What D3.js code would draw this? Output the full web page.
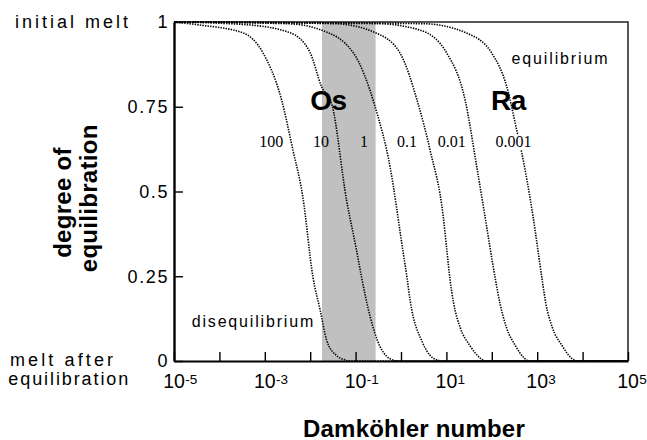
<!DOCTYPE html>
<html>
<head>
<meta charset="utf-8">
<script src="https://cdn.jsdelivr.net/npm/d3@7"></script>
<style>
  body { margin: 0; background: #fff; }
  svg { display: block; font-family: "Liberation Sans", Arial, Helvetica, sans-serif; }
</style>
</head>
<body>
<div id="chart"></div>
<script>
// curves: [log10(Damkohler number), degree of equilibration]
const curveLabels = ["100", "10", "1", "0.1", "0.01", "0.001"];

const curve100 = [[-5, 1], [-4.43, 0.991], [-3.48, 0.968], [-3.04, 0.909], [-2.63, 0.770], [-2.38, 0.622],
  [-2.16, 0.482], [-1.94, 0.248], [-1.78, 0.150], [-1.64, 0.062], [-1.42, 0.016], [-1.23, 0.003], [-1.15, 0], [5, 0]];
const curve10 = [[-5, 1], [-3.4, 0.992], [-2.44, 0.968], [-2.0, 0.909], [-1.75, 0.809], [-1.52, 0.755],
  [-1.20, 0.475], [-0.98, 0.327], [-0.87, 0.248], [-0.68, 0.131], [-0.46, 0.042], [-0.18, 0.003], [-0.05, 0], [5, 0]];
const curve1 = [[-5, 1], [-2.5, 0.995], [-1.75, 0.976], [-1.05, 0.909], [-0.57, 0.750], [-0.24, 0.572],
  [0.04, 0.327], [0.13, 0.248], [0.20, 0.180], [0.48, 0.053], [0.79, 0.003], [0.93, 0], [5, 0]];
const curve01 = [[-5, 1], [-1.45, 0.995], [-0.54, 0.967], [-0.02, 0.908], [0.37, 0.762], [0.64, 0.622],
  [0.93, 0.426], [1.01, 0.327], [1.08, 0.240], [1.16, 0.170], [1.30, 0.100], [1.52, 0.045], [1.75, 0.008], [1.85, 0], [5, 0]];
const curve001 = [[-5, 1], [-0.5, 0.995], [0.42, 0.976], [1.01, 0.908], [1.42, 0.765], [1.67, 0.572],
  [1.87, 0.410], [2.07, 0.248], [2.18, 0.170], [2.32, 0.100], [2.52, 0.045], [2.72, 0.008], [2.82, 0], [5, 0]];
const curve0001 = [[-5, 1], [0.5, 0.995], [1.45, 0.967], [2.0, 0.908], [2.33, 0.809], [2.55, 0.681],
  [2.66, 0.614], [2.91, 0.425], [3.10, 0.248], [3.19, 0.170], [3.33, 0.100], [3.55, 0.045], [3.76, 0.008], [3.88, 0], [5, 0]];
const curves = [curve100, curve10, curve1, curve01, curve001, curve0001];

// where the curve labels sit (log10 Da)
const curveLabelLogX = [-2.86, -1.76, -0.815, 0.13, 1.12, 2.48];
const curveLabelY = 0.631;

// Os range (shaded)
const osBand = [Math.pow(10, -1.74), Math.pow(10, -0.56)];

const xDecades = d3.range(-5, 6);
const xLabelExps = [-5, -3, -1, 1, 3, 5];
const yTicks = [0, 0.25, 0.5, 0.75, 1];

const W = 647, H = 440;
const margin = {left: 174, right: 19, top: 22, bottom: 79};

const svg = d3.select('#chart').append('svg')
  .attr('width', W)
  .attr('height', H);

const x = d3.scaleLog().domain([1e-5, 1e5]).range([margin.left, W - margin.right]);
const y = d3.scaleLinear().domain([0, 1]).range([H - margin.bottom, margin.top]);

// gray band
svg.append('rect')
  .attr('x', x(osBand[0]))
  .attr('y', y(1))
  .attr('width', x(osBand[1]) - x(osBand[0]))
  .attr('height', y(0) - y(1))
  .attr('fill', '#c0c0c0');

// frame (top + right)
svg.append('path')
  .attr('d', `M${x(1e-5)},${y(1)}H${x(1e5)}V${y(0)}`)
  .attr('fill', 'none')
  .attr('stroke', '#222')
  .attr('stroke-width', 1.5);

const line = d3.line()
  .x(d => x(Math.pow(10, d[0])))
  .y(d => y(d[1]))
  .curve(d3.curveMonotoneX);

svg.selectAll('.curve')
  .data(curves)
  .enter().append('path')
  .attr('class', 'curve')
  .attr('d', line)
  .attr('fill', 'none')
  .attr('stroke', '#000')
  .attr('stroke-width', 1.6)
  .attr('stroke-dasharray', '1.4,1.2');

// curve labels
const labs = svg.selectAll('.clab')
  .data(curveLabels)
  .enter().append('g')
  .attr('class', 'clab')
  .attr('transform', (d, i) => `translate(${x(Math.pow(10, curveLabelLogX[i]))},${y(curveLabelY)})`);
labs.append('rect')
  .attr('x', d => -d.length * 4 - 1)
  .attr('y', -12)
  .attr('width', d => d.length * 8 + 2)
  .attr('height', 15)
  .attr('fill', (d, i) => i === 5 ? '#fff' : 'none');
labs.append('text')
  .attr('text-anchor', 'middle')
  .style('font-family', '"Liberation Serif", "Times New Roman", serif')
  .style('font-size', '16px')
  .text(d => d);

// Os / Ra
svg.append('text')
  .attr('x', x(Math.pow(10, -1.597))).attr('y', y(0.740))
  .attr('text-anchor', 'middle')
  .style('font-size', '28px').style('font-weight', 'bold').style('letter-spacing', '-0.5px')
  .text('Os');
svg.append('text')
  .attr('x', x(Math.pow(10, 2.368))).attr('y', y(0.740))
  .attr('text-anchor', 'middle')
  .style('font-size', '28px').style('font-weight', 'bold').style('letter-spacing', '-0.5px')
  .text('Ra');

// equilibrium / disequilibrium
svg.append('text')
  .attr('x', x(Math.pow(10, 2.434))).attr('y', y(0.876))
  .attr('textLength', 96).attr('lengthAdjust', 'spacing')
  .style('font-size', '16px')
  .text('equilibrium');
svg.append('text')
  .attr('x', x(Math.pow(10, -4.61))).attr('y', y(0.100))
  .attr('textLength', 121.6).attr('lengthAdjust', 'spacing')
  .style('font-size', '16px')
  .text('disequilibrium');

// axes
const xAxis = svg.append('g')
  .attr('transform', `translate(0,${y(0)})`)
  .call(d3.axisBottom(x).tickValues(xDecades.map(e => Math.pow(10, e)))
    .tickSizeInner(-9).tickSizeOuter(0).tickFormat(''));
xAxis.select('.domain').attr('stroke-width', 2.2).attr('stroke', '#000');
xAxis.selectAll('.tick line').attr('stroke-width', 1.4).attr('stroke', '#000');

// x labels: "10" centred on the tick, exponent hanging to its right
xLabelExps.forEach(e => {
  const cx = x(Math.pow(10, e));
  const base = svg.append('text')
    .attr('x', cx).attr('y', 388)
    .attr('text-anchor', 'middle')
    .style('font-size', '19.5px')
    .text('10');
  const w = base.node().getComputedTextLength();
  svg.append('text')
    .attr('x', cx + w / 2 + 0.3).attr('y', 384)
    .style('font-size', '13.5px')
    .text(e);
});

const yAxis = svg.append('g')
  .attr('transform', `translate(${x(1e-5)},0)`)
  .call(d3.axisLeft(y).tickValues(yTicks)
    .tickSizeInner(-9).tickSizeOuter(0).tickPadding(5).tickFormat(d => String(d)));
yAxis.select('.domain').attr('stroke-width', 2.4).attr('stroke', '#000');
yAxis.selectAll('.tick line').attr('stroke-width', 1.4).attr('stroke', '#000');
yAxis.selectAll('.tick text')
  .attr('fill', '#000')
  .style('font-size', '18px')
  .style('letter-spacing', '1.6px')
  .style('font-family', '"Liberation Sans", Arial, sans-serif');

// side annotations
const side = [
  {t: 'initial melt', x: 15, y: 28, len: 113},
  {t: 'melt after', x: 10, y: 365.5, len: 103},
  {t: 'equilibration', x: 8.3, y: 384.5, len: 120}
];
svg.selectAll('.side')
  .data(side)
  .enter().append('text')
  .attr('class', 'side')
  .attr('x', d => d.x).attr('y', d => d.y)
  .attr('textLength', d => d.len).attr('lengthAdjust', 'spacing')
  .style('font-size', '18px')
  .text(d => d.t);

// titles
svg.append('text')
  .attr('x', 414).attr('y', 436.5)
  .attr('text-anchor', 'middle')
  .style('font-size', '24px').style('font-weight', 'bold').style('letter-spacing', '0.2px')
  .text('Damköhler number');
svg.append('text')
  .attr('transform', 'translate(71,202.5) rotate(-90)')
  .attr('text-anchor', 'middle')
  .style('font-size', '24px').style('font-weight', 'bold').style('letter-spacing', '0.3px')
  .text('degree of');
svg.append('text')
  .attr('transform', 'translate(97,198.3) rotate(-90)')
  .attr('text-anchor', 'middle')
  .style('font-size', '24px').style('font-weight', 'bold').style('letter-spacing', '0.3px')
  .text('equilibration');
</script>
</body>
</html>
